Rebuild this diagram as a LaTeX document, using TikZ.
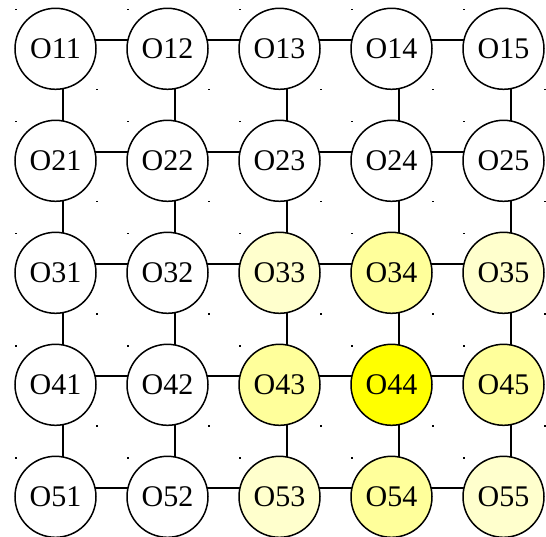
\documentclass[tikz,border=0pt]{standalone}
\usepackage{fontspec}
\setmainfont{Liberation Serif}
\usetikzlibrary{backgrounds}
\definecolor{peak}{RGB}{255,255,0}
\definecolor{near}{RGB}{255,255,155}
\definecolor{far}{RGB}{255,255,205}
\tikzset{
  x=1pt, y=-1pt,
  cell/.style={circle, draw=black, line width=1.5pt, fill=white,
    minimum size=81pt, inner sep=0pt,
    font=\fontsize{30}{36}\selectfont},
  link/.style={draw=black, line width=1.5pt},
  % weights of the neighbourhood around O44
  f44/.style={fill=peak},
  f34/.style={fill=near}, f43/.style={fill=near},
  f45/.style={fill=near}, f54/.style={fill=near},
  f33/.style={fill=far}, f35/.style={fill=far},
  f53/.style={fill=far}, f55/.style={fill=far},
}
\begin{document}
\begin{tikzpicture}
  \useasboundingbox (0,0) rectangle (546,537);
  % grid of cells
  \foreach \i in {1,...,5} {
    \foreach \j in {1,...,5} {
      \node[cell, f\i\j/.try] (n\i\j) at ({55.5+112*(\j-1)}, {48.8+112*(\i-1)}) {O\i\j};
      \fill ([shift={(-40.6,-39.8)}]n\i\j.center) rectangle +(1.8,1.5);
      \fill ([shift={(40.2,40.2)}]n\i\j.center) rectangle +(1.8,1.5);
    }
  }
  % links between neighbouring cells
  \begin{scope}[on background layer]
    \foreach \i in {1,...,5} {
      \foreach \j in {1,...,4} {
        \pgfmathtruncatemacro\k{\j+1}
        \draw[link] ([shift={(7.5,-8.6)}]n\i\j.center) -- ([shift={(7.5,-8.6)}]n\i\k.center);
      }
    }
    \foreach \i in {1,...,4} {
      \foreach \j in {1,...,5} {
        \pgfmathtruncatemacro\k{\i+1}
        \draw[link] ([shift={(7.5,-8.6)}]n\i\j.center) -- ([shift={(7.5,-8.6)}]n\k\j.center);
      }
    }
  \end{scope}
\end{tikzpicture}
\end{document}
